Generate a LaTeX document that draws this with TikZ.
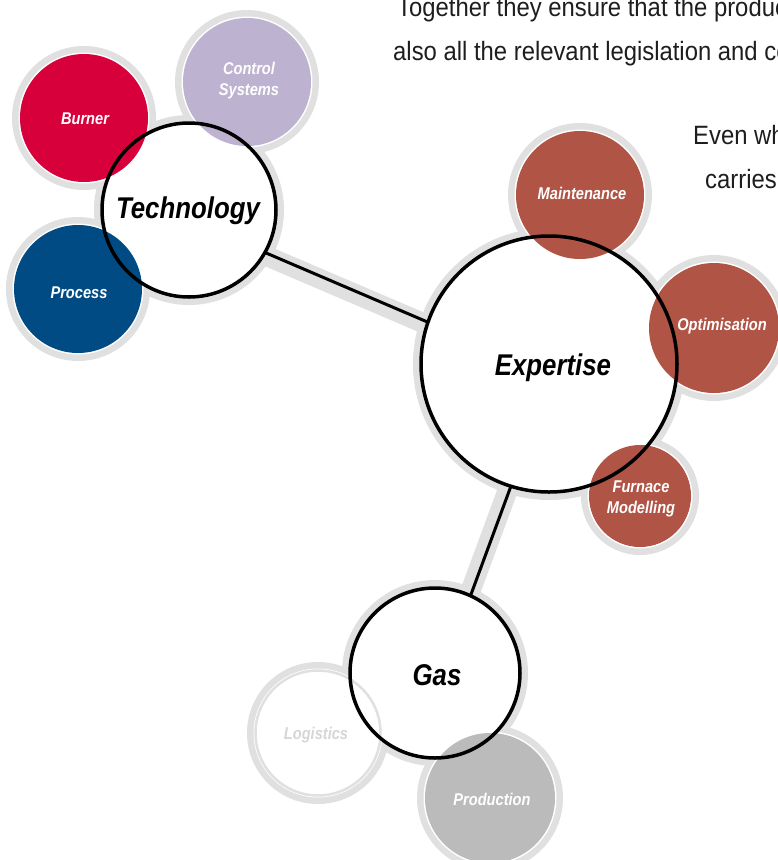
\documentclass[tikz,border=0pt]{standalone}
\usepackage{fontspec}
\newfontfamily\bodyfont[FakeStretch=0.9]{Liberation Sans}
\newfontfamily\labelfont[FakeStretch=0.86]{Liberation Sans}
\definecolor{halogray}{HTML}{E0E0E0}
\definecolor{textgray}{HTML}{1E1E1E}
\definecolor{burnerred}{HTML}{D7003A}
\definecolor{controllilac}{HTML}{BDB2D0}
\definecolor{processblue}{HTML}{004B83}
\definecolor{expertred}{HTML}{B05446}
\definecolor{prodgray}{HTML}{BBBBBB}
\definecolor{logisgray}{HTML}{D6D6D6}
\begin{document}
\begin{tikzpicture}[x=1pt, y=-1pt,
	halo/.style={fill=halogray},
	gap/.style={fill=white},
	ring/.style={line width=3.5pt, black},
	band/.style={line width=20pt, halogray},
	link/.style={line width=3pt, black},
	mainlabel/.style={font=\labelfont\bfseries\itshape\fontsize{30}{36}\selectfont, anchor=base, inner sep=0pt},
	satlabel/.style={font=\labelfont\bfseries\itshape\fontsize{17}{21}\selectfont, white, anchor=base, inner sep=0pt, align=center},
	bodytext/.style={font=\bodyfont\fontsize{26.5}{32}\selectfont, textgray, anchor=base west, inner sep=0pt}]
					\clip (0,0) rectangle (778,860);
					\fill[white] (0,0) rectangle (778,860);
					
					\coordinate[](tech) at (189,210) ;
					\coordinate[](burner) at (84,118) ;
					\coordinate[](control) at (247,82) ;
					\coordinate[](process) at (78,289) ;
					\coordinate[](exp) at (549,364) ;
					\coordinate[](maint) at (580,195) ;
					\coordinate[](optim) at (714,328) ;
					\coordinate[](furnace) at (640,496) ;
					\coordinate[](gas) at (435,673) ;
					\coordinate[](logis) at (318,733) ;
					\coordinate[](prod) at (490,798) ;
					
					\draw[band] ([shift={(-2,12)}]tech) -- ([shift={(-2,12)}]exp);
					\draw[band] ([shift={(4.5,2)}]exp) -- ([shift={(4.5,2)}]gas);
					
					\fill[halo] (tech) circle (95pt);
					\fill[halo] (exp) circle (136pt);
					\fill[halo] (gas) circle (93pt);
					\fill[halo] (burner) circle (72pt);
					\fill[halo] (control) circle (72pt);
					\fill[halo] (process) circle (72pt);
					\fill[halo] (maint) circle (72pt);
					\fill[halo] (optim) circle (73pt);
					\fill[halo] (furnace) circle (59pt);
					\fill[halo] (logis) circle (71pt);
					\fill[halo] (prod) circle (73pt);
					
					\draw[link] ([shift={(0,10)}]tech) -- ([shift={(0,10)}]exp);
					\draw[link] ([shift={(7,0)}]exp) -- ([shift={(7,0)}]gas);
					
					\fill[gap] (tech) circle (87pt);
					\fill[gap] (exp) circle (128pt);
					\fill[gap] (gas) circle (85pt);
					\fill[gap] (burner) circle (65.5pt);
					\fill[gap] (control) circle (65.5pt);
					\fill[gap] (process) circle (65.5pt);
					\fill[gap] (maint) circle (65.5pt);
					\fill[gap] (optim) circle (66.5pt);
					\fill[gap] (furnace) circle (52.5pt);
					\fill[gap] (logis) circle (64.5pt);
					\fill[gap] (prod) circle (66.5pt);
					
					\fill[burnerred] (burner) circle (64pt);
					\fill[controllilac] (control) circle (64pt);
					\fill[processblue] (process) circle (64pt);
					\fill[expertred] (maint) circle (64pt);
					\fill[expertred] (optim) circle (65pt);
					\fill[expertred] (furnace) circle (51pt);
					\draw[halogray, line width=2.5pt, fill=white] (logis) circle (62.5pt);
					\fill[prodgray] (prod) circle (65pt);
					
					\draw[ring] (tech) circle (87pt);
					\draw[ring] (exp) circle (128pt);
					\draw[ring] (gas) circle (85pt);
					
					\node[mainlabel] (techlabel) at (188,218) {Technology};
					\node[mainlabel] (explabel) at (553,375) {Expertise};
					\node[mainlabel] (gaslabel) at (437,685) {Gas};
					\node[satlabel] (burnerlabel) at (85,124) {Burner};
					\node[satlabel] (processlabel) at (79,298) {Process};
					\node[satlabel] (controllabel) at (249,95) {Control\\Systems};
					\node[satlabel] (maintlabel) at (582,199) {Maintenance};
					\node[satlabel] (optimlabel) at (722,330) {Optimisation};
					\node[satlabel] (furnacelabel) at (641,513) {Furnace\\Modelling};
					\node[satlabel, logisgray] (logislabel) at (316,739) {Logistics};
					\node[satlabel] (prodlabel) at (492,805) {Production};
					
					\node[bodytext] (intro1) at (397,16) {Together they ensure that the produc};
					\node[bodytext] (intro2) at (393,60) {also all the relevant legislation and co};
					\node[bodytext] (even1) at (693,144) {Even wh};
					\node[bodytext] (even2) at (705,188) {carries};
\end{tikzpicture}
\end{document}
